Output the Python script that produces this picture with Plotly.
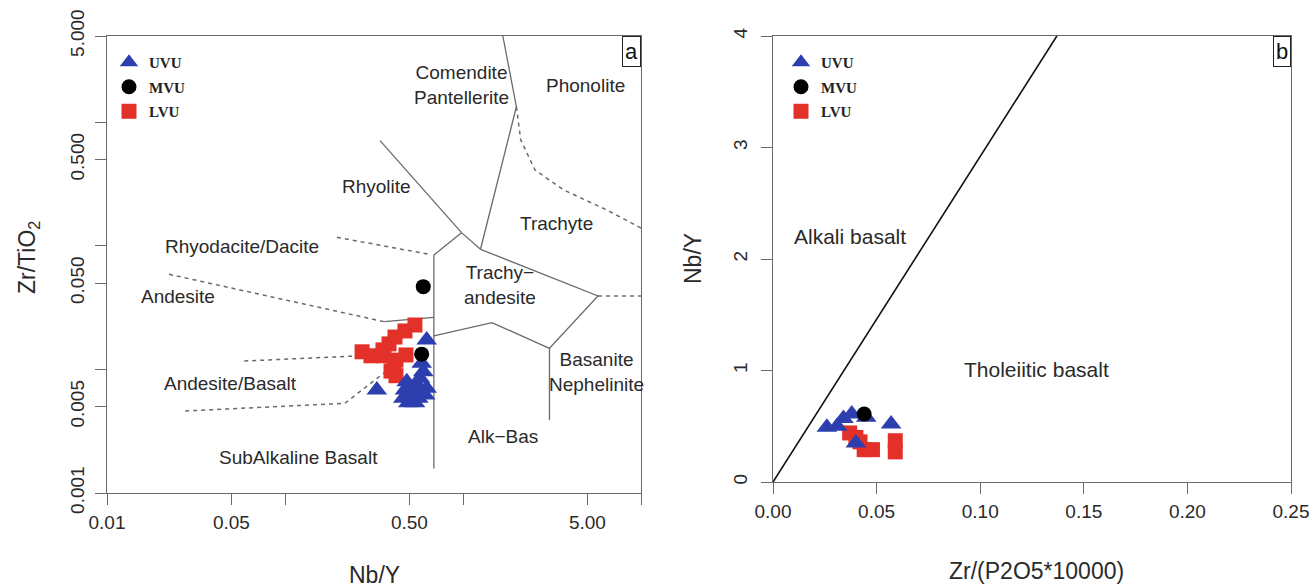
import math
import plotly.graph_objects as go

# ---------------- Panel a : Winchester & Floyd (Zr/TiO2 vs Nb/Y) ----------------
units = ["UVU", "MVU", "LVU"]
unit_symbols = ["triangle-up", "circle", "square"]
unit_colors = ["#2d3fae", "#000000", "#e3312a"]

uvu_a_nby = [0.625, 0.328, 0.586, 0.598, 0.573, 0.483, 0.554, 0.625, 0.472, 0.526, 0.612, 0.462, 0.515, 0.561, 0.493, 0.537]
uvu_a_zrti = [0.0173, 0.00682, 0.0112, 0.0096, 0.00848, 0.00796, 0.00749, 0.00704, 0.00682, 0.0066, 0.00621, 0.00584, 0.00566, 0.00584, 0.00538, 0.00538]
mvu_a_nby = [0.598, 0.586]
mvu_a_zrti = [0.0468, 0.0133]
lvu_a_nby = [0.537, 0.472, 0.415, 0.384, 0.355, 0.271, 0.304, 0.360, 0.478, 0.420, 0.410, 0.394, 0.420]
lvu_a_zrti = [0.0229, 0.0205, 0.0183, 0.0161, 0.0144, 0.0139, 0.0129, 0.0129, 0.0131, 0.0119, 0.0105, 0.0097, 0.0089]

# field boundaries (solid)
solid_lines_a = [
    ([1.674, 1.995, 1.254], [5.0, 1.339, 0.0939]),
    ([0.342, 0.981, 1.254], [0.711, 0.128, 0.0939]),
    ([0.686, 0.981], [0.0844, 0.128]),
    ([0.686, 0.686], [0.0844, 0.00158]),
    ([1.254, 5.73, 3.06, 3.06], [0.0939, 0.0393, 0.01483, 0.0039]),
    ([3.06, 1.455, 0.686], [0.01483, 0.0239, 0.01866]),
    ([0.361, 0.686], [0.02435, 0.02643]),
]
# field boundaries (dashed)
dashed_lines_a = [
    ([1.995, 2.11, 2.54, 3.68, 6.43, 10.0], [1.339, 0.72, 0.4115, 0.2835, 0.1953, 0.1396]),
    ([5.73, 10.0], [0.0393, 0.0393]),
    ([0.196, 0.66], [0.1174, 0.085]),
    ([0.0223, 0.0897, 0.361], [0.0589, 0.0377, 0.02435]),
    ([0.059, 0.249], [0.0117, 0.01285]),
    ([0.0275, 0.2168, 0.378], [0.00461, 0.00532, 0.0099]),
]
field_labels_a = ["Comendite<br>Pantellerite", "Phonolite", "Rhyolite", "Trachyte", "Rhyodacite/Dacite",
                  "Trachy\u2212<br>andesite", "Andesite", "Basanite<br>Nephelinite", "Andesite/Basalt",
                  "Alk\u2212Bas", "SubAlkaline Basalt"]
field_label_x_a = [0.98, 4.86, 0.326, 3.36, 0.057, 1.62, 0.0251, 5.65, 0.0496, 1.674, 0.1186]
field_label_y_a = [2.006, 1.97, 0.305, 0.1524, 0.0998, 0.0483, 0.0393, 0.0096, 0.00773, 0.00289, 0.00195]

x_ticks_a = [0.01, 0.05, 0.1, 0.5, 1, 5, 10]
x_ticktext_a = ["0.01", "0.05", "", "0.50", "", "5.00", ""]
y_ticks_a = [0.001, 0.005, 0.01, 0.05, 0.1, 0.5, 1, 5]
y_ticktext_a = ["0.001", "0.005", "", "0.050", "", "0.500", "", "5.000"]

# ---------------- Panel b : Nb/Y vs Zr/(P2O5*10000) ----------------
uvu_b_x = [0.026, 0.031, 0.034, 0.038, 0.040, 0.045, 0.057]
uvu_b_y = [0.49, 0.50, 0.57, 0.61, 0.35, 0.58, 0.52]
mvu_b_x = [0.044]
mvu_b_y = [0.61]
lvu_b_x = [0.037, 0.040, 0.042, 0.044, 0.048, 0.059, 0.059]
lvu_b_y = [0.44, 0.40, 0.36, 0.29, 0.29, 0.37, 0.27]

divider_b_x = [0.0, 0.137]
divider_b_y = [0.0, 4.0]
field_labels_b = ["Alkali basalt", "Tholeiitic basalt"]
field_label_x_b = [0.0372, 0.1274]
field_label_y_b = [2.2, 1.01]

x_ticks_b = [0, 0.05, 0.10, 0.15, 0.20, 0.25]
y_ticks_b = [0, 1, 2, 3, 4]

# ---------------- figure ----------------
W, H = 1311, 587
FONT = "Liberation Sans, Arial, Helvetica, sans-serif"
LINE_COL = "#6a6a6a"
TXT = "#2a2a2a"

fig = go.Figure()

for xs, ys in solid_lines_a:
    fig.add_trace(go.Scatter(x=xs, y=ys, mode="lines", line=dict(color=LINE_COL, width=1.3),
                             showlegend=False, hoverinfo="skip", xaxis="x", yaxis="y"))
for xs, ys in dashed_lines_a:
    fig.add_trace(go.Scatter(x=xs, y=ys, mode="lines", line=dict(color=LINE_COL, width=1.5, dash="4px,4px"),
                             showlegend=False, hoverinfo="skip", xaxis="x", yaxis="y"))

fig.add_trace(go.Scatter(x=divider_b_x, y=divider_b_y, mode="lines", line=dict(color="#111111", width=1.6),
                         showlegend=False, hoverinfo="skip", xaxis="x2", yaxis="y2"))

sizes = [18, 15, 15]
data_a = [(uvu_a_nby, uvu_a_zrti), (mvu_a_nby, mvu_a_zrti), (lvu_a_nby, lvu_a_zrti)]
data_b = [(uvu_b_x, uvu_b_y), (mvu_b_x, mvu_b_y), (lvu_b_x, lvu_b_y)]

# plot order: LVU, UVU, MVU so circles sit on top
order = [2, 0, 1]
for i in order:
    xs, ys = data_a[i]
    fig.add_trace(go.Scatter(x=xs, y=ys, mode="markers", name="<b>" + units[i] + "</b>",
                             marker=dict(symbol=unit_symbols[i], color=unit_colors[i], size=sizes[i], line=dict(width=0)),
                             xaxis="x", yaxis="y", legend="legend", legendgroup="a" + units[i],
                             legendrank=i + 1))
for i in order:
    xs, ys = data_b[i]
    fig.add_trace(go.Scatter(x=xs, y=ys, mode="markers", name="<b>" + units[i] + "</b>",
                             marker=dict(symbol=unit_symbols[i], color=unit_colors[i], size=sizes[i], line=dict(width=0)),
                             xaxis="x2", yaxis="y2", legend="legend2", legendgroup="b" + units[i],
                             legendrank=i + 1))

annotations = []
for t, x, y in zip(field_labels_a, field_label_x_a, field_label_y_a):
    annotations.append(dict(text=t, x=math.log10(x), y=math.log10(y),
                            xref="x", yref="y", showarrow=False, xanchor="center", yanchor="middle",
                            font=dict(family=FONT, size=19, color=TXT), align="center"))
for t, x, y in zip(field_labels_b, field_label_x_b, field_label_y_b):
    annotations.append(dict(text=t, x=x, y=y, xref="x2", yref="y2", showarrow=False,
                            xanchor="center", yanchor="middle",
                            font=dict(family=FONT, size=21, color=TXT)))

# panel letters
for lab, xr, yr in [("a", "x domain", "y domain"), ("b", "x2 domain", "y2 domain")]:
    annotations.append(dict(text=lab, x=1, y=1, xref=xr, yref=yr, xanchor="right", yanchor="top",
                            showarrow=False, bordercolor="#222", borderwidth=1, borderpad=2,
                            bgcolor="white", font=dict(family=FONT, size=22, color="#111")))

# axis titles
title_font = dict(family=FONT, size=23, color=TXT)
annotations += [
    dict(text="Nb/Y", x=374 / W, y=(H - 575) / H, xref="paper", yref="paper", showarrow=False,
         xanchor="center", yanchor="middle", font=title_font),
    dict(text="Zr/TiO<sub>2</sub>", x=28 / W, y=(H - 258) / H, xref="paper", yref="paper", showarrow=False,
         xanchor="center", yanchor="middle", textangle=-90, font=title_font),
    dict(text="Zr/(P2O5*10000)", x=1036 / W, y=(H - 571) / H, xref="paper", yref="paper", showarrow=False,
         xanchor="center", yanchor="middle", font=title_font),
    dict(text="Nb/Y", x=693 / W, y=(H - 259) / H, xref="paper", yref="paper", showarrow=False,
         xanchor="center", yanchor="middle", textangle=-90, font=title_font),
]

axis_common = dict(showline=True, linecolor=LINE_COL, linewidth=1.2, mirror=True, ticks="outside",
                   ticklen=11, tickcolor=LINE_COL, tickwidth=1.2, showgrid=False, zeroline=False,
                   automargin=False, tickfont=dict(family=FONT, size=19, color=TXT))

fig.update_layout(
    width=W, height=H,
    margin=dict(l=0, r=0, t=0, b=0),
    paper_bgcolor="white", plot_bgcolor="white",
    xaxis=dict(type="log", range=[-2, 1], domain=[107 / W, 641 / W], anchor="y",
               tickvals=x_ticks_a, ticktext=x_ticktext_a, ticklabelstandoff=1, **axis_common),
    yaxis=dict(type="log", range=[-3, 0.69897], domain=[(H - 493) / H, (H - 36) / H], anchor="x",
               tickvals=y_ticks_a, ticktext=y_ticktext_a, tickangle=-90, ticklabelstandoff=3, **axis_common),
    xaxis2=dict(range=[0, 0.25], domain=[773 / W, 1291 / W], anchor="y2",
                tickvals=x_ticks_b, tickformat=".2f", ticklabelstandoff=1, **axis_common),
    yaxis2=dict(range=[0, 4], domain=[(H - 482) / H, (H - 36) / H], anchor="x2",
                tickvals=y_ticks_b, tickangle=-90, ticklabelstandoff=6, **axis_common),
    legend=dict(x=109 / W, y=(H - 46) / H, xanchor="left", yanchor="top", bgcolor="rgba(0,0,0,0)",
                font=dict(family="Liberation Serif, serif", size=15, color="#222"),
                tracegroupgap=2, itemsizing="trace"),
    legend2=dict(x=781 / W, y=(H - 46) / H, xanchor="left", yanchor="top", bgcolor="rgba(0,0,0,0)",
                 font=dict(family="Liberation Serif, serif", size=15, color="#222"),
                 tracegroupgap=2, itemsizing="trace"),
    annotations=annotations,
)

fig.write_html("out.html", config={"displayModeBar": False},
               post_script="document.body.style.margin='0px';")
